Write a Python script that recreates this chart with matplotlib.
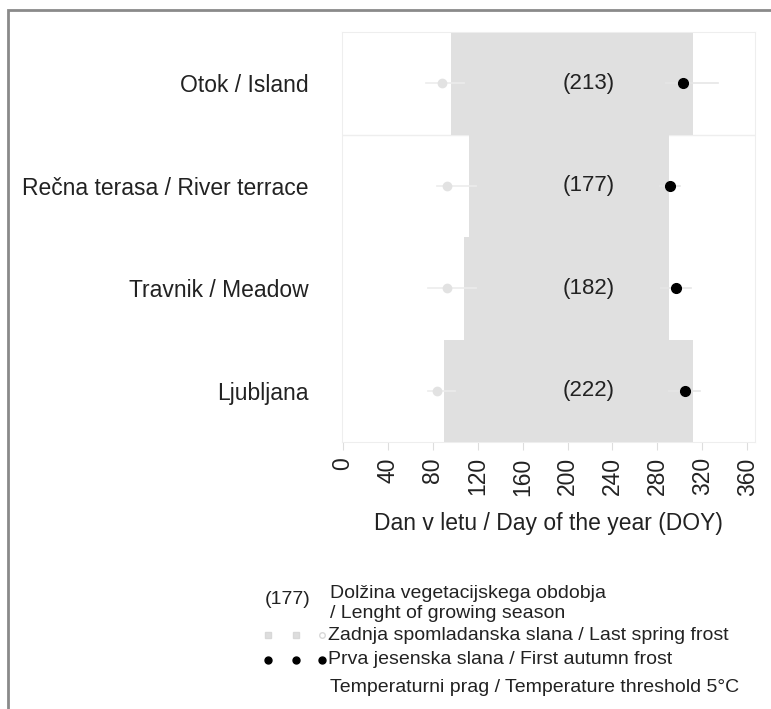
import matplotlib.pyplot as plt
from matplotlib.patches import Rectangle

plt.rcParams['font.family'] = ['Liberation Sans', 'DejaVu Sans']

sites = ["Otok / Island", "Rečna terasa / River terrace", "Travnik / Meadow", "Ljubljana"]
season_length = [213, 177, 182, 222]
thr_start = [96, 112, 108, 90]
thr_end = [312, 290, 290, 312]
spring_frost = [88, 93, 93, 84]
spring_lo = [74, 84, 76, 76]
spring_hi = [108, 118, 118, 100]
autumn_frost = [303, 291, 297, 305]
autumn_lo = [288, 282, 283, 290]
autumn_hi = [334, 300, 310, 318]
xticks = list(range(0, 361, 40))

W, H = 771, 709
fig = plt.figure(figsize=(W / 100, H / 100), dpi=100)

# outer frame (cropped at right/bottom in the original)
fig.patches.append(Rectangle((8 / W, -0.1), 1.2, (H - 10) / H + 0.1, transform=fig.transFigure,
                             fill=False, edgecolor='#8a8a8a', linewidth=2))

ax = fig.add_axes([342 / W, (H - 442) / H, 413 / W, 410 / H])
ypos = [4, 3, 2, 1]
txt = '#222222'

for i, y in enumerate(ypos):
    ax.add_patch(Rectangle((thr_start[i], y - 0.5), thr_end[i] - thr_start[i], 1.0,
                           facecolor='#e0e0e0', edgecolor='none', zorder=1))
    ax.plot([spring_lo[i], spring_hi[i]], [y, y], color='#ececec', lw=1.2, zorder=2)
    ax.plot(spring_frost[i], y, 'o', color='#e2e2e2', markersize=6, zorder=3)
    ax.plot([autumn_lo[i], autumn_hi[i]], [y, y], color='#e6e6e6', lw=1.2, zorder=2)
    ax.plot(autumn_frost[i], y, 'o', color='black', markersize=7, zorder=4)
    ax.text(219, y, f"({season_length[i]})", ha='center', va='center', fontsize=16,
            color=txt, zorder=5)

ax.axhline(3.5, color='#eeeeee', lw=1, zorder=0)
ax.set_xlim(-1, 367)
ax.set_ylim(0.5, 4.5)
ax.set_yticks(ypos)
ax.set_yticklabels(sites, fontsize=16.5, color=txt)
ax.set_xticks(xticks)
ax.set_xticklabels([str(t) for t in xticks], rotation=90, fontsize=16.5, color=txt)
ax.tick_params(axis='x', length=6, color='#dddddd', pad=5)
ax.tick_params(axis='y', length=0, pad=24)
for s in ax.spines.values():
    s.set_color('#eeeeee')
ax.set_xlabel("Dan v letu / Day of the year (DOY)", fontsize=16.5, color=txt, labelpad=12)

# legend drawn by hand
lx = 330 / W
fs = 14
fig.text(288 / W, 1 - 600 / H, "(177)", ha='center', va='center', fontsize=fs, color=txt)
fig.text(lx, 1 - 593 / H, "Dolžina vegetacijskega obdobja", va='center', fontsize=fs, color=txt)
fig.text(lx, 1 - 613 / H, "/ Lenght of growing season", va='center', fontsize=fs, color=txt)
fig.text(lx - 2 / W, 1 - 635 / H, "Zadnja spomladanska slana / Last spring frost", va='center',
         fontsize=fs, color=txt)
fig.text(lx - 2 / W, 1 - 660 / H, "Prva jesenska slana / First autumn frost", va='center',
         fontsize=fs, color=txt)
fig.text(lx, 1 - 688 / H, "Temperaturni prag / Temperature threshold 5°C", va='center',
         fontsize=fs, color=txt)
for mx, mk, ms, fc in [(268, 's', 5, '#dddddd'), (296, 's', 5, '#dddddd'), (322, 'o', 4, 'white')]:
    fig.lines.append(plt.Line2D([mx / W], [1 - 635 / H], marker=mk, color='#d8d8d8',
                                markerfacecolor=fc, markersize=ms, transform=fig.transFigure))
for mx in [268, 296, 322]:
    fig.lines.append(plt.Line2D([mx / W], [1 - 660 / H], marker='o', color='black',
                                markersize=5, transform=fig.transFigure))

fig.savefig("out.png", dpi=100)
